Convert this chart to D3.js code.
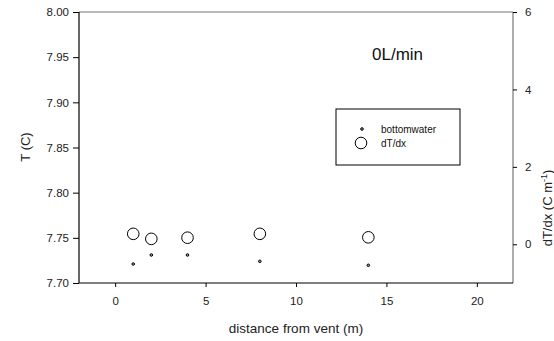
<!DOCTYPE html>
<html>
<head>
<meta charset="utf-8">
<script src="https://cdn.jsdelivr.net/npm/d3@7"></script>
<style>
  html, body { margin: 0; padding: 0; background: #fff; }
  svg { display: block; font-family: "Liberation Sans", Arial, sans-serif; }
</style>
</head>
<body>
<svg id="chart" width="554" height="341"></svg>
<script>
// Distance from vent (m) for each station
const distance = [1, 2, 4, 8, 14];
// Bottom-water temperature (C), left axis
const bottomwater = [7.721, 7.731, 7.731, 7.724, 7.7196];
// Temperature gradient dT/dx (C m^-1), right axis
const dTdx = [0.27, 0.14, 0.17, 0.27, 0.18];

const xTicks = [0, 5, 10, 15, 20];
const yTicks = [7.70, 7.75, 7.80, 7.85, 7.90, 7.95, 8.00];
const y2Ticks = [0, 2, 4, 6];

const svg = d3.select("#chart");
const plotL = 79, plotR = 513, plotT = 12, plotB = 283;

const x = d3.scaleLinear().domain([-2, 22]).range([plotL, plotR]);
const y = d3.scaleLinear().domain([7.70, 8.00]).range([plotB, plotT]);
const y2 = d3.scaleLinear().domain([-1, 6]).range([plotB, plotT]);

function styleAxis(g) {
  g.select(".domain").remove();
  g.selectAll(".tick line").attr("stroke", "#000");
  g.selectAll(".tick text")
    .attr("fill", "#222")
    .style("font-size", "11.5px")
    .style("font-family", "'Liberation Sans', Arial, sans-serif");
}

// frame: top and right in grey, left and bottom in black
svg.append("line").attr("x1", plotL).attr("x2", plotR).attr("y1", plotT).attr("y2", plotT)
  .attr("stroke", "#777").attr("stroke-width", 1.2);
svg.append("line").attr("x1", plotR).attr("x2", plotR).attr("y1", plotT).attr("y2", plotB)
  .attr("stroke", "#777").attr("stroke-width", 1.2);
svg.append("line").attr("x1", plotL).attr("x2", plotL).attr("y1", plotT).attr("y2", plotB)
  .attr("stroke", "#000").attr("stroke-width", 1.2);
svg.append("line").attr("x1", plotL).attr("x2", plotR).attr("y1", plotB).attr("y2", plotB)
  .attr("stroke", "#000").attr("stroke-width", 1.2);

svg.append("g").attr("transform", `translate(0,${plotB})`)
  .call(d3.axisBottom(x).tickValues(xTicks).tickSize(4).tickPadding(10).tickFormat(d3.format("d")))
  .call(styleAxis);

svg.append("g").attr("transform", `translate(${plotL},0)`)
  .call(d3.axisLeft(y).tickValues(yTicks).tickSize(6).tickPadding(4).tickFormat(d3.format(".2f")))
  .call(styleAxis);

svg.append("g").attr("transform", `translate(${plotR},0)`)
  .call(d3.axisRight(y2).tickValues(y2Ticks).tickSize(4).tickPadding(8).tickFormat(d3.format("d")))
  .call(styleAxis);

// axis titles
svg.append("text").attr("transform", "translate(30,147) rotate(-90)")
  .attr("text-anchor", "middle").style("font-size", "13px").attr("fill", "#222")
  .text("T (C)");

svg.append("text").attr("x", x(10)).attr("y", 333)
  .attr("text-anchor", "middle").style("font-size", "13.5px").attr("fill", "#222")
  .text("distance from vent (m)");

const r2 = svg.append("text").attr("transform", "translate(552,208) rotate(-90)")
  .attr("text-anchor", "middle").style("font-size", "13px").attr("fill", "#222");
r2.append("tspan").text("dT/dx (C m");
r2.append("tspan").attr("dy", -5).style("font-size", "9px").text("-1");
r2.append("tspan").attr("dy", 5).text(")");

// panel label
svg.append("text").attr("x", 372).attr("y", 60)
  .style("font-size", "17px").attr("fill", "#111").text("0L/min");

// data: temperature gradient as open circles (right axis)
svg.append("g").selectAll("circle").data(distance).join("circle")
  .attr("cx", d => x(d))
  .attr("cy", (d, i) => y2(dTdx[i]))
  .attr("r", 5.8)
  .attr("fill", "none").attr("stroke", "#000").attr("stroke-width", 1);

// data: bottom-water temperature as small dots (left axis)
svg.append("g").selectAll("circle").data(distance).join("circle")
  .attr("cx", d => x(d))
  .attr("cy", (d, i) => y(bottomwater[i]))
  .attr("r", 1.3)
  .attr("fill", "#999").attr("stroke", "#000").attr("stroke-width", 1);

// legend
const lg = svg.append("g");
lg.append("rect").attr("x", 336).attr("y", 109).attr("width", 124).attr("height", 56)
  .attr("fill", "#fff").attr("stroke", "#000").attr("stroke-width", 1);
lg.append("circle").attr("cx", 362).attr("cy", 129).attr("r", 1.3)
  .attr("fill", "#999").attr("stroke", "#000");
lg.append("circle").attr("cx", 361).attr("cy", 143).attr("r", 5.8)
  .attr("fill", "none").attr("stroke", "#000");
lg.append("text").attr("x", 381).attr("y", 133).style("font-size", "10px").attr("fill", "#111").text("bottomwater");
lg.append("text").attr("x", 381).attr("y", 147).style("font-size", "10px").attr("fill", "#111").text("dT/dx");
</script>
</body>
</html>
